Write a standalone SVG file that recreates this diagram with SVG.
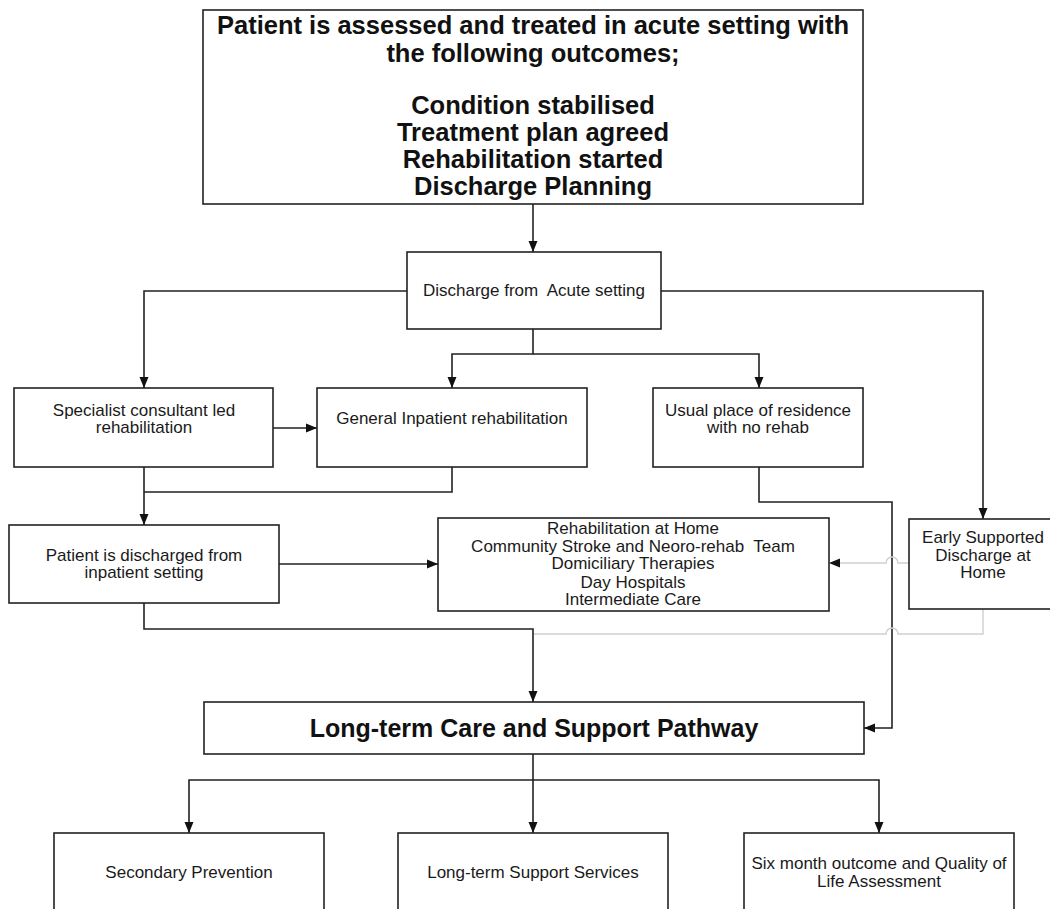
<svg xmlns="http://www.w3.org/2000/svg" width="1050" height="909" viewBox="0 0 1050 909">
  <style>
    .box { fill: #ffffff; stroke: #222222; stroke-width: 1.6; }
    .t { font-family: "Liberation Sans", Arial, sans-serif; font-size: 17px; fill: #1a1a1a; text-anchor: middle; }
    .tb { font-family: "Liberation Sans", Arial, sans-serif; font-weight: bold; fill: #111111; text-anchor: middle; }
    .ln { fill: none; stroke: #222222; stroke-width: 1.6; }
    .gl { fill: none; stroke: #cfcfcf; stroke-width: 1.4; }
  </style>
  <defs>
    <marker id="arr" markerUnits="userSpaceOnUse" markerWidth="12" markerHeight="12" refX="11" refY="6" orient="auto">
      <path d="M0,1.5 L11,6 L0,10.5 Z" fill="#111111"/>
    </marker>
  </defs>
  <rect width="1050" height="909" fill="#ffffff"/>

  <!-- connectors -->
  <g id="connectors">
    <path class="ln" d="M533,204 V252" marker-end="url(#arr)"/>
    <path class="ln" d="M407,291 H144 V388" marker-end="url(#arr)"/>
    <path class="ln" d="M661,291 H983 V519" marker-end="url(#arr)"/>
    <path class="ln" d="M533,329 V354 H452 V388" marker-end="url(#arr)"/>
    <path class="ln" d="M533,354 H759 V388" marker-end="url(#arr)"/>
    <path class="ln" d="M273,428 H317" marker-end="url(#arr)"/>
    <path class="ln" d="M144,467 V525" marker-end="url(#arr)"/>
    <path class="ln" d="M452,467 V492 H144"/>
    <path class="ln" d="M279,564 H438" marker-end="url(#arr)"/>
    <path class="ln" d="M759,467 V502 H892 V728 H864" marker-end="url(#arr)"/>
    <path class="ln" d="M144,603 V629 H533 V702" marker-end="url(#arr)"/>
    <!-- light connectors from early supported discharge, hopping over the vertical line -->
    <path class="gl" d="M909,563 H898 A6,6 0 0 0 886,563 H830"/>
    <path d="M829,563 L840,558.5 L840,567.5 Z" fill="#111111"/>
    <path class="gl" d="M983,609 V634 H898 A6,6 0 0 0 886,634 H534"/>
    <path class="ln" d="M533,754 V780 H189 V833" marker-end="url(#arr)"/>
    <path class="ln" d="M533,780 V833" marker-end="url(#arr)"/>
    <path class="ln" d="M533,780 H879 V833" marker-end="url(#arr)"/>
  </g>

  <g id="acute">
    <rect class="box" x="203" y="10" width="660" height="194"/>
    <text class="tb" font-size="25.5" x="533" y="34">Patient is assessed and treated in acute setting with</text>
    <text class="tb" font-size="25.5" x="533" y="62">the following outcomes;</text>
    <text class="tb" font-size="25.5" x="533" y="114">Condition stabilised</text>
    <text class="tb" font-size="25.5" x="533" y="141">Treatment plan agreed</text>
    <text class="tb" font-size="25.5" x="533" y="168">Rehabilitation started</text>
    <text class="tb" font-size="25.5" x="533" y="195">Discharge Planning</text>
  </g>

  <g id="discharge-acute">
    <rect class="box" x="407" y="252" width="254" height="77"/>
    <text class="t" x="534" y="296" xml:space="preserve">Discharge from  Acute setting</text>
  </g>

  <g id="specialist">
    <rect class="box" x="14" y="388" width="259" height="79"/>
    <text class="t" x="144" y="416">Specialist consultant led</text>
    <text class="t" x="144" y="433">rehabilitation</text>
  </g>

  <g id="general">
    <rect class="box" x="317" y="388" width="270" height="79"/>
    <text class="t" x="452" y="424">General Inpatient rehabilitation</text>
  </g>

  <g id="usual-residence">
    <rect class="box" x="653" y="388" width="210" height="79"/>
    <text class="t" x="758" y="416">Usual place of residence</text>
    <text class="t" x="758" y="433">with no rehab</text>
  </g>

  <g id="discharged-inpatient">
    <rect class="box" x="9" y="525" width="270" height="78"/>
    <text class="t" x="144" y="561">Patient is discharged from</text>
    <text class="t" x="144" y="578">inpatient setting</text>
  </g>

  <g id="community">
    <rect class="box" x="438" y="518" width="391" height="93"/>
    <text class="t" x="633" y="534">Rehabilitation at Home</text>
    <text class="t" x="633" y="552" xml:space="preserve">Community Stroke and Neoro-rehab  Team</text>
    <text class="t" x="633" y="569">Domiciliary Therapies</text>
    <text class="t" x="633" y="588">Day Hospitals</text>
    <text class="t" x="633" y="605">Intermediate Care</text>
  </g>

  <g id="early-supported">
    <rect class="box" x="909" y="519" width="145" height="90"/>
    <text class="t" x="983" y="543">Early Supported</text>
    <text class="t" x="983" y="561">Discharge at</text>
    <text class="t" x="983" y="578">Home</text>
  </g>

  <g id="long-term-pathway">
    <rect class="box" x="204" y="702" width="660" height="52"/>
    <text class="tb" font-size="25" x="534" y="737">Long-term Care and Support Pathway</text>
  </g>

  <g id="secondary-prevention">
    <rect class="box" x="54" y="833" width="270" height="80"/>
    <text class="t" x="189" y="878">Secondary Prevention</text>
  </g>

  <g id="support-services">
    <rect class="box" x="398" y="833" width="270" height="80"/>
    <text class="t" x="533" y="878">Long-term Support Services</text>
  </g>

  <g id="six-month">
    <rect class="box" x="744" y="833" width="270" height="80"/>
    <text class="t" x="879" y="869">Six month outcome and Quality of</text>
    <text class="t" x="879" y="887">Life Assessment</text>
  </g>
</svg>
